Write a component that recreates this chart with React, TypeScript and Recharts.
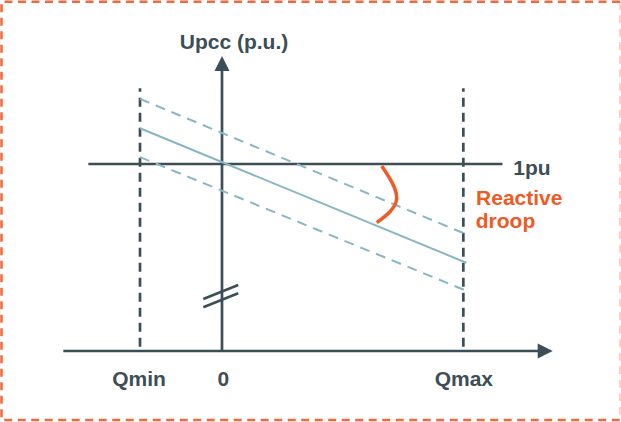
import React from 'react';
import { ComposedChart, Line, XAxis, YAxis, ReferenceLine, ReferenceDot } from 'recharts';

const DARK = '#3c4e56';
const BLUE = '#88b6c5';
const ORANGE = '#f05a24';
const FONT = '"Liberation Sans", Arial, Helvetica, sans-serif';

// reactive power limits
const qMin = -1;
const qMax = 2.943;

// droop characteristic (solid) and its tolerance band (dashed)
const droopQ = [-1, 2.98];
const droopMid = [1.191, 0.472];
const droopUpper = [1.348, 0.624];
const droopLower = [1.037, 0.322];

// the "reactive droop" angle arc
const arcQ = [1.948, 2.13, 1.887];
const arcU = [0.989, 0.813, 0.686];

// x tick labels
const tickLabels = ['Qmin', '0', 'Qmax'];
const tickQ = [-1.012, 0.016, 2.949];

const droopData = droopQ.map((q, i) => ({
  q,
  mid: droopMid[i],
  upper: droopUpper[i],
  lower: droopLower[i],
}));
const arcData = arcQ.map((q, i) => ({ q, u: arcU[i] }));

const ArrowLine = (props: any) => {
  const { x1, y1, x2, y2 } = props;
  const dx = x2 - x1;
  const dy = y2 - y1;
  const len = Math.hypot(dx, dy) || 1;
  const ux = dx / len;
  const uy = dy / len;
  const head = 15;
  const half = 7.5;
  const bx = x2 - ux * head;
  const by = y2 - uy * head;
  return (
    <g>
      <line x1={x1} y1={y1} x2={bx + ux} y2={by + uy} stroke={DARK} strokeWidth={2.7} />
      <polygon
        points={`${x2},${y2} ${bx - uy * half},${by + ux * half} ${bx + uy * half},${by - ux * half}`}
        fill={DARK}
      />
    </g>
  );
};

const label = (text: string, anchor: string, color: string, size = 21) => (p: any) => (
  <text
    x={p.cx}
    y={p.cy}
    textAnchor={anchor}
    fill={color}
    fontFamily={FONT}
    fontWeight="bold"
    fontSize={size}
  >
    {text}
  </text>
);

export default function App() {
  return (
    <div style={{ position: 'absolute', left: 0, top: 0, width: 621, height: 422, background: '#fff' }}>
      <ComposedChart
        width={621}
        height={422}
        data={droopData}
        margin={{ top: 14.4, right: 5.4, bottom: 14.9, left: 8.8 }}
      >
        <XAxis dataKey="q" type="number" domain={[-2.6, 4.8]} hide allowDataOverflow />
        <YAxis type="number" domain={[-0.3, 1.8]} hide allowDataOverflow />

        {/* axes */}
        <ReferenceLine segment={[{ x: -1.935, y: 0 }, { x: 4.033, y: 0 }]} shape={ArrowLine} ifOverflow="visible" />
        <ReferenceLine segment={[{ x: 0, y: 0 }, { x: 0, y: 1.578 }]} shape={ArrowLine} ifOverflow="visible" />

        {/* axis break */}
        <ReferenceLine segment={[{ x: -0.228, y: 0.278 }, { x: 0.198, y: 0.353 }]} stroke={DARK} strokeWidth={2.5} />
        <ReferenceLine segment={[{ x: -0.228, y: 0.234 }, { x: 0.198, y: 0.309 }]} stroke={DARK} strokeWidth={2.5} />

        {/* limits */}
        <ReferenceLine segment={[{ x: qMin, y: 0.023 }, { x: qMin, y: 1.405 }]} stroke={DARK} strokeWidth={2.7} strokeDasharray="9 6" />
        <ReferenceLine segment={[{ x: qMax, y: 0.023 }, { x: qMax, y: 1.405 }]} stroke={DARK} strokeWidth={2.7} strokeDasharray="9 6" />
        <ReferenceLine segment={[{ x: -1.63, y: 1 }, { x: 3.42, y: 1 }]} stroke={DARK} strokeWidth={2.7} />

        <Line dataKey="upper" stroke={BLUE} strokeWidth={2} strokeDasharray="10 7" dot={false} activeDot={false} isAnimationActive={false} />
        <Line dataKey="lower" stroke={BLUE} strokeWidth={2} strokeDasharray="10 7" dot={false} activeDot={false} isAnimationActive={false} />
        <Line dataKey="mid" stroke={BLUE} strokeWidth={2} dot={false} activeDot={false} isAnimationActive={false} />
        <Line data={arcData} dataKey="u" type="natural" stroke={ORANGE} strokeWidth={3.5} dot={false} activeDot={false} isAnimationActive={false} />

        {/* texts */}
        <ReferenceDot x={0.146} y={1.615} r={0} shape={label('Upcc (p.u.)', 'middle', DARK)} ifOverflow="visible" />
        <ReferenceDot x={3.552} y={0.941} r={0} shape={label('1pu', 'start', DARK)} ifOverflow="visible" />
        <ReferenceDot x={3.098} y={0.781} r={0} shape={label('Reactive', 'start', ORANGE)} ifOverflow="visible" />
        <ReferenceDot x={3.095} y={0.656} r={0} shape={label('droop', 'start', ORANGE)} ifOverflow="visible" />
        {tickLabels.map((t, i) => (
          <ReferenceDot key={t} x={tickQ[i]} y={-0.187} r={0} shape={label(t, 'middle', DARK)} ifOverflow="visible" />
        ))}
      </ComposedChart>
      <svg width={621} height={422} style={{ position: 'absolute', left: 0, top: 0, pointerEvents: 'none' }}>
        <path d="M620 1.7 H1.5 V420 H620" fill="none" stroke="#f26a3a" strokeWidth={2.5} strokeDasharray="8 5.5" />
        <path d="M620 1.7 V420" fill="none" stroke="#f26a3a" strokeOpacity={0.3} strokeWidth={2} strokeDasharray="8 5.5" />
      </svg>
    </div>
  );
}
